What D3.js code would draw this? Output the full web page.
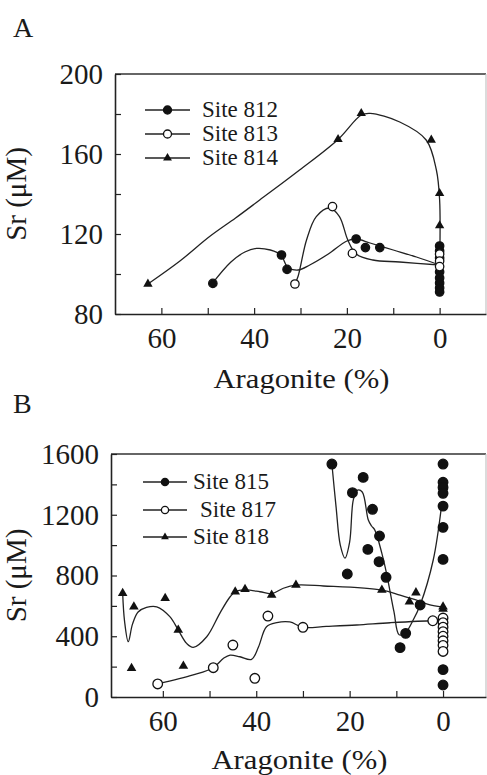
<!DOCTYPE html>
<html>
<head>
<meta charset="utf-8">
<title>Sr vs Aragonite</title>
<script src="https://d3js.org/d3.v7.min.js"></script>
<style>
  body { margin: 0; background: #fff; }
  .tick line { stroke: #222; stroke-width: 1.2; }
  .domain { stroke: #222; stroke-width: 1.6; }
  .fit { fill: none; stroke: #222; stroke-width: 1.3; }
</style>
</head>
<body>
<svg id="fig" width="487" height="775"></svg>
<script>
// ---- Panel A : Sites 812, 813, 814 ----
const a812x = [48.9, 34.1, 32.9, 18.0, 16.0, 12.9, 0, 0, 0, 0, 0, 0, 0, 0];
const a812y = [95.3, 109.5, 102.3, 117.5, 113.2, 113.2, 114, 111.5, 108, 101, 98, 95.5, 93, 91];
const a813x = [31.2, 23.1, 18.8, 0, 0, 0];
const a813y = [95, 133.7, 110.3, 110, 106.5, 103.7];
const a814x = [62.9, 21.9, 16.9, 1.8, 0, 0, 0, 0];
const a814y = [95, 167.3, 180.3, 167, 140.3, 124.2, 96, 92];

// fitted curves
const fit812x = [49, 45, 42, 39.5, 36.5, 34.2, 32.8, 30.5, 28, 24, 20, 18, 15, 10, 5, 0];
const fit812y = [95.3, 106, 111, 112.8, 112, 109.5, 103.5, 102, 104.5, 110, 116.5, 117.5, 115.5, 112, 108.5, 104.5];
const fit813x = [31.2, 30.5, 28.7, 26.6, 23.7, 21.6, 19.8, 18, 14.4, 8.6, 0];
const fit813y = [95, 99, 117, 128.7, 133, 128.7, 117, 110, 107, 106, 104.5];
const fit814x = [62.9, 56, 49.6, 44, 38.8, 30.2, 21.9, 16.9, 15, 8.6, 2.9, 0.7, 0, 0];
const fit814y = [95, 106.5, 118.7, 128, 137, 152, 167.3, 179.5, 180.3, 176, 167, 152, 137, 104];

// ---- Panel B : Sites 815, 817, 818 ----
const b815x = [23.8, 17.1, 19.4, 15.1, 13.6, 16.1, 13.7, 12.2, 20.5, 9.2, 8.0, 4.9, 0, 0, 0, 0, 0, 0, 0, 0, 0];
const b815y = [1534, 1446, 1345, 1236, 1060, 972, 891, 788, 810, 325, 419, 606, 1534, 1414, 1380, 1341, 1257, 1117, 906, 180, 79];
const b817x = [61.1, 49.2, 45.0, 40.3, 37.5, 30.0, 2.2, 0, 0, 0, 0, 0, 0, 0, 0];
const b817y = [86, 193, 342, 123, 533, 459, 502, 520, 490, 460, 430, 400, 370, 340, 300];
const b818x = [68.6, 66.2, 59.5, 56.7, 66.7, 55.6, 44.5, 42.4, 36.7, 31.5, 13.1, 5.8, 7.2, 0, 0];
const b818y = [683, 594, 650, 441, 189, 204, 693, 709, 671, 737, 704, 687, 627, 594, 580];

const fit815x = [23.8, 22.9, 22.0, 21.0, 20.0, 19.2, 18.3, 17.3, 16.0, 15.3, 14.6, 13.1, 12.1, 10.5, 9.4, 8.0, 6.5, 4.9, 2.1, 0.3];
const fit815y = [1534, 1250, 1000, 915, 1020, 1300, 1362, 1350, 1165, 1126, 1099, 946, 814, 560, 410, 425, 500, 606, 902, 1264];
const fit817x = [61.1, 53.5, 49.2, 47, 45.6, 43.5, 41, 39.5, 37.8, 35.6, 32.8, 30, 25, 18.5, 11.3, 2.2, 0];
const fit817y = [86, 145, 193, 255, 276, 265, 248, 331, 463, 490, 494, 459, 465, 474, 489, 502, 500];
const fit818x = [68.6, 68.2, 67.4, 66.5, 65.3, 63.5, 61.3, 58.5, 56.7, 54.9, 53.5, 50.6, 47.8, 45.6, 44.5, 42.4, 39.2, 36.7, 34.2, 31.5, 25.6, 13.1, 9.2, 5.8, 2.8, 0.3];
const fit818y = [683, 500, 364, 480, 560, 590, 594, 529, 441, 353, 327, 397, 551, 660, 693, 705, 693, 680, 716, 737, 731, 704, 671, 639, 606, 594];

const xTicks = [60, 50, 40, 30, 20, 10, 0];
const xLabels = [60, 40, 20, 0];
const yTicksA = [80, 100, 120, 140, 160, 180, 200];
const yLabelsA = [80, 120, 160, 200];
const yTicksB = [0, 200, 400, 600, 800, 1000, 1200, 1400, 1600];
const yLabelsB = [0, 400, 800, 1200, 1600];

const FONT = '"Liberation Serif", serif';
const svg = d3.select('#fig');
svg.append('rect').attr('width', 487).attr('height', 775).attr('fill', '#fff');

const zip = (xs, ys) => xs.map((x, i) => [x, ys[i]]);
const serif = (sel, size) => sel.style('font-family', FONT).style('font-size', size + 'px').style('fill', '#1a1a1a');

function panel(opt) {
  const {x, y, yTicks, yLabels, letter, letterY, titleY, sites, legend} = opt;
  const [x0, x1] = x.range();
  const [yb, yt] = y.range();

  // frame: top and right
  svg.append('line').attr('x1', x0).attr('x2', x1).attr('y1', yt).attr('y2', yt)
    .attr('stroke', '#333').attr('stroke-width', 1.6);
  svg.append('line').attr('x1', x1).attr('x2', x1).attr('y1', yt).attr('y2', yb)
    .attr('stroke', '#c4c4c4').attr('stroke-width', 1.2);

  const gx = svg.append('g').attr('transform', `translate(0,${yb})`)
    .call(d3.axisBottom(x).tickValues(xTicks).tickSizeInner(-6).tickSizeOuter(0).tickPadding(13)
      .tickFormat(d => xLabels.includes(d) ? d : ''));
  serif(gx.selectAll('text'), 29);
  const gy = svg.append('g').attr('transform', `translate(${x0},0)`)
    .call(d3.axisLeft(y).tickValues(yTicks).tickSizeInner(-6).tickSizeOuter(0).tickPadding(12)
      .tickFormat(d => yLabels.includes(d) ? d : ''));
  serif(gy.selectAll('text'), 29);

  const line = d3.line().x(d => x(d[0])).y(d => y(d[1])).curve(d3.curveCatmullRom.alpha(0.5));
  sites.forEach(s => {
    svg.append('path').datum(zip(s.fx, s.fy)).attr('class', 'fit').attr('d', line);
  });
  sites.forEach(s => {
    drawMarks(zip(s.px, s.py).map(d => [x(d[0]), y(d[1])]), s.kind, opt.size);
  });

  // legend
  legend.forEach((l, i) => {
    const ly = l.y;
    svg.append('line').attr('x1', l.x0).attr('x2', l.x1).attr('y1', ly).attr('y2', ly)
      .attr('stroke', '#222').attr('stroke-width', 1.3);
    drawMarks([[(l.x0 + l.x1) / 2, ly]], sites[i].kind, opt.legSize);
    serif(svg.append('text').attr('x', l.tx).attr('y', ly + 7).text(sites[i].name), 23);
  });

  serif(svg.append('text').attr('x', 13).attr('y', letterY).text(letter), 28);
  serif(svg.append('text').attr('text-anchor', 'middle')
    .attr('x', (x0 + x1) / 2 + 1).attr('y', titleY)
    .attr('textLength', 176).attr('lengthAdjust', 'spacingAndGlyphs')
    .text('Aragonite (%)'), 28);
  serif(svg.append('text').attr('text-anchor', 'middle')
    .attr('transform', `translate(26,${(yb + yt) / 2}) rotate(-90)`).text('Sr (μM)'), 29);
}

function drawMarks(pts, kind, sz) {
  if (kind === 'tri') {
    svg.append('g').selectAll('path').data(pts).join('path')
      .attr('transform', d => `translate(${d[0]},${d[1]})`)
      .attr('d', d3.symbol(d3.symbolTriangle).size(sz.tri)).attr('fill', '#111');
  } else {
    svg.append('g').selectAll('circle').data(pts).join('circle')
      .attr('cx', d => d[0]).attr('cy', d => d[1]).attr('r', sz.r)
      .attr('fill', kind === 'open' ? '#fff' : '#111')
      .attr('stroke', '#111').attr('stroke-width', 1.3);
  }
}

const xA = d3.scaleLinear().domain([70, -10]).range([115, 486]);
const yA = d3.scaleLinear().domain([80, 200]).range([314, 74]);
panel({
  x: xA, y: yA, yTicks: yTicksA, yLabels: yLabelsA, letter: 'A', letterY: 37, titleY: 388,
  size: {r: 4.2, tri: 38}, legSize: {r: 4, tri: 34},
  sites: [
    {name: 'Site 812', kind: 'filled', px: a812x, py: a812y, fx: fit812x, fy: fit812y},
    {name: 'Site 813', kind: 'open', px: a813x, py: a813y, fx: fit813x, fy: fit813y},
    {name: 'Site 814', kind: 'tri', px: a814x, py: a814y, fx: fit814x, fy: fit814y}
  ],
  legend: [
    {x0: 145, x1: 190, tx: 202, y: 110},
    {x0: 145, x1: 190, tx: 202, y: 134},
    {x0: 145, x1: 190, tx: 202, y: 158}
  ]
});

const xB = d3.scaleLinear().domain([71.1, -9.2]).range([111, 486]);
const yB = d3.scaleLinear().domain([0, 1600]).range([697, 454]);
panel({
  x: xB, y: yB, yTicks: yTicksB, yLabels: yLabelsB, letter: 'B', letterY: 413, titleY: 769,
  size: {r: 4.8, tri: 40}, legSize: {r: 3.6, tri: 26},
  sites: [
    {name: 'Site 815', kind: 'filled', px: b815x, py: b815y, fx: fit815x, fy: fit815y},
    {name: 'Site 817', kind: 'open', px: b817x, py: b817y, fx: fit817x, fy: fit817y},
    {name: 'Site 818', kind: 'tri', px: b818x, py: b818y, fx: fit818x, fy: fit818y}
  ],
  legend: [
    {x0: 143, x1: 187, tx: 193, y: 482},
    {x0: 143, x1: 187, tx: 200, y: 510},
    {x0: 143, x1: 187, tx: 193, y: 537}
  ]
});
</script>
</body>
</html>
